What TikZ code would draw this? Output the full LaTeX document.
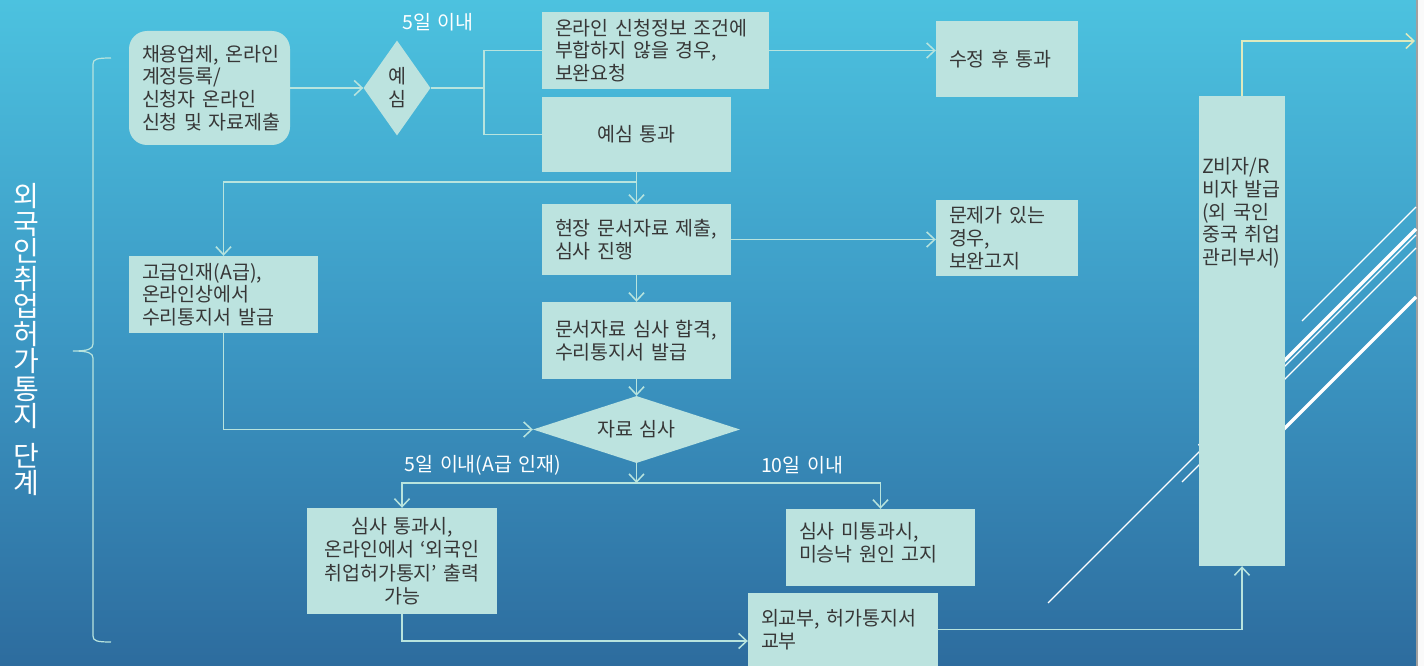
\documentclass[tikz,border=0pt]{standalone}
\usepackage{fontspec}
\setmainfont[WordSpace=1.5]{Noto Sans CJK KR}
\usetikzlibrary{shapes.geometric,arrows.meta,calc}
\definecolor{bgtop}{RGB}{76,194,223}
\definecolor{bgmid}{RGB}{60,152,196}
\definecolor{bgbot}{RGB}{45,108,158}
\definecolor{boxfill}{RGB}{188,227,223}
\definecolor{boxtext}{RGB}{55,55,55}
\definecolor{connc}{RGB}{184,228,222}
\definecolor{conny}{RGB}{222,234,190}
\newcommand{\bxfont}{\fontsize{19.5}{22.7}\selectfont}
\begin{document}
\begin{tikzpicture}[x=1pt,y=-1pt,
  box/.style={fill=boxfill, draw=none, text=boxtext, font=\bxfont, inner ysep=0pt, inner xsep=13pt},
  lbox/.style={box, align=left},
  cbox/.style={box, align=center},
  dia/.style={diamond, fill=boxfill, draw=none, text=boxtext, font=\bxfont, inner sep=0pt, align=center},
  cline/.style={draw=connc, line width=1.5pt},
  arr/.style={cline, -{Straight Barb[length=8pt,width=15pt,line width=1.5pt]}},
  arry/.style={draw=conny, line width=1.5pt, -{Straight Barb[length=8pt,width=15pt,line width=1.5pt]}},
  lbl/.style={text=white, font=\bxfont, inner sep=0pt},
  deco/.style={draw=white, line width=1.3pt},
  decothick/.style={draw=white, line width=3.5pt}
]
\useasboundingbox (0,0) rectangle (1424,666);
% background
\shade[top color=bgtop, bottom color=bgbot, middle color=bgmid] (0,0) rectangle (1416,666);
\fill[gray!75] (1416,0) rectangle (1418,666);
\fill[white!96!gray] (1418,0) rectangle (1424,666);

% decorative lines
\draw[deco] (1048,603) -- (1416,235);
\draw[deco] (1182,482) -- (1416,248);
\draw[decothick] (1199,446) -- (1416,229);
\draw[decothick] (1250,463) -- (1416,297);
\draw[deco] (1302,321) -- (1416,207);

% title and brace
\node[text=white, font=\fontsize{28}{27.5}\selectfont, align=center, inner sep=0pt] (title) at (26,340)
  {외\\국\\인\\취\\업\\허\\가\\통\\지\\[12pt]단\\계};
\draw[cline, line width=1.2pt] (111,58) .. controls (97,58) and (93,59) .. (93,64) -- (93,344)
  .. controls (93,349) and (88,351) .. (73,351) .. controls (88,351) and (93,353) .. (93,358)
  -- (93,636) .. controls (93,641) and (97,642) .. (111,642);

% nodes
\node[lbox, rounded corners=18pt, minimum width=161pt, minimum height=114pt, text width=135pt] (reg) at (209.5,88)
  {채용업체,~온라인\\계정등록/\\신청자~온라인\\신청~및~자료제출};
\node[dia, minimum width=67pt, minimum height=95pt, font=\fontsize{19.5}{23}\selectfont] (yesim) at (397,88) {예\\심};
\node[lbl] (l5d) at (438,22) {5일~이내};
\node[lbox, minimum width=227pt, minimum height=77pt, text width=201pt] (bowan) at (655.5,50.5)
  {온라인~신청정보~조건에\\부합하지~않을~경우,\\보완요청};
\node[cbox, minimum width=189pt, minimum height=75pt] (yspass) at (636.5,134.5) {예심~통과};
\node[lbox, minimum width=142pt, minimum height=76pt, text width=116pt] (sujeong) at (1007,59) {수정~후~통과};
\node[lbox, minimum width=189pt, minimum height=71pt, text width=163pt] (hyeon) at (636.5,239.5)
  {현장~문서자료~제출,\\심사~진행};
\node[lbox, minimum width=142pt, minimum height=76pt, text width=116pt] (munje) at (1007,238)
  {문제가~있는\\경우,\\보완고지};
\node[lbox, minimum width=189pt, minimum height=77pt, text width=163pt] (goguep) at (223.5,294.5)
  {고급인재(A급),\\온라인상에서\\수리통지서~발급};
\node[lbox, minimum width=189pt, minimum height=77pt, text width=163pt] (munseo) at (636.5,340.5)
  {문서자료~심사~합격,\\수리통지서~발급};
\node[dia, shape aspect=3.5, minimum width=207pt, minimum height=67pt] (jaryo) at (636.5,429.5) {자료~심사};
\node[lbl] (l5a) at (483,465) {5일~이내(A급~인재)};
\node[lbl] (l10) at (802,465) {10일~이내};
\node[cbox, minimum width=190pt, minimum height=106pt, font=\fontsize{19.5}{23.5}\selectfont] (pass) at (402,561)
  {심사~통과시,\\온라인에서~‘외국인\\취업허가통지’~출력\\가능};
\node[lbox, minimum width=189pt, minimum height=77pt, text width=163pt] (fail) at (880.5,547.5)
  {심사~미통과시,\\미승낙~원인~고지\\[-12pt]\mbox{}};
\node[lbox, minimum width=190pt, minimum height=73pt, text width=164pt] (oegyo) at (843,629.5)
  {외교부,~허가통지서\\교부};
\node[box, minimum width=86pt, minimum height=470pt, inner sep=0pt] (zbox) at (1242,331) {};
\node[text=boxtext, font=\bxfont, align=left, inner sep=0pt, anchor=west] (ztext) at (1202,213)
  {Z비자/R\\비자~발급\\(외~국인\\중국~취업\\관리부서)};

% junctions
\coordinate (j1) at (484,88);
\coordinate (j2) at (636.5,182);
\coordinate (j3) at (636.5,483);
\coordinate (zexit) at (1415,41);

% connectors
\draw[arr] (reg.east) -- (yesim.west);
\draw[cline] (yesim.east) -- (j1);
\draw[cline] (bowan.west) -| (j1) |- (yspass.west);
\draw[arr] (bowan.east) -- (bowan.east -| sujeong.west);
\draw[arr] (yspass.south) -- (hyeon.north);
\draw[arr] (j2) -| (goguep.north);
\draw[arr] (hyeon.east) -- (hyeon.east -| munje.west);
\draw[arr] (hyeon.south) -- (munseo.north);
\draw[arr] (munseo.south) -- (jaryo.north);
\draw[arr] (goguep.south) |- (jaryo.west);
\draw[arr] (jaryo.south) -- (j3);
\draw[arr] (j3) -| (pass.north);
\draw[arr] (j3) -| (fail.north);
\draw[arr] (pass.south) |- ([yshift=-11.5pt]oegyo.west);
\draw[arr] (oegyo.east) -| (zbox.south);
\draw[arry] (zbox.north) |- (zexit);
\end{tikzpicture}
\end{document}
